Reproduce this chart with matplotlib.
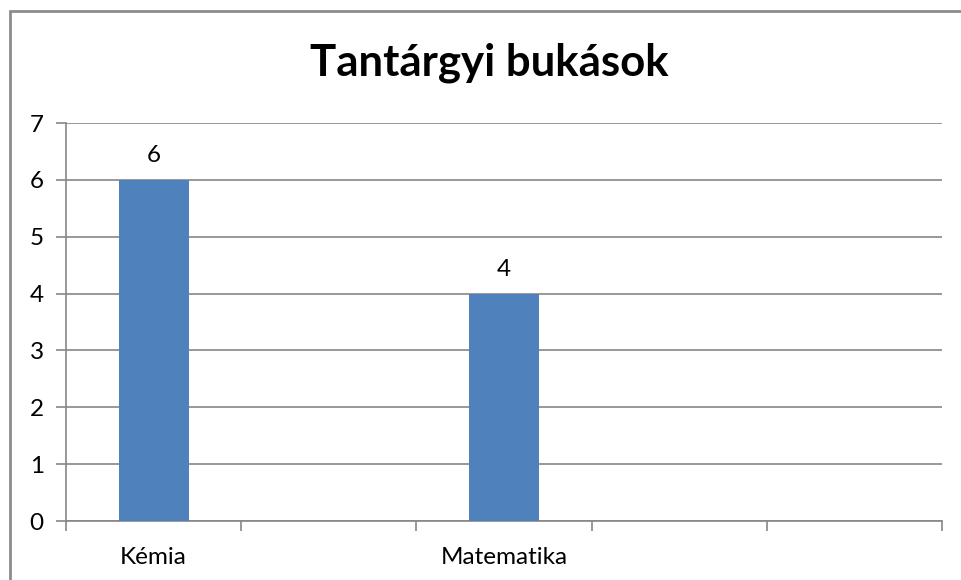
import matplotlib

matplotlib.use("Agg")

import matplotlib.pyplot as plt
import numpy as np
from matplotlib.patches import Rectangle
from matplotlib.ticker import FixedLocator

categories = ["Kémia", "", "Matematika", "", ""]
values = [6, np.nan, 4, np.nan, np.nan]
y_ticks = [0, 1, 2, 3, 4, 5, 6, 7]

_BAR_COLOR = "#4F81BD"
_AXIS_COLOR = "#868686"
_FONT = ["Lato", "DejaVu Sans"]

plt.rcParams["font.family"] = _FONT

fig = plt.figure(figsize=(9.62, 5.80), dpi=100)
ax = fig.add_axes([0.0686, 0.1017, 0.9106, 0.6862])

x = np.arange(len(categories))
ax.bar(x, values, width=0.4, color=_BAR_COLOR, zorder=3)

for xi, v in zip(x, values):
    if not np.isnan(v):
        ax.annotate(f"{v:g}", xy=(xi, v), xytext=(0, 10), textcoords="offset points",
                    ha="center", va="bottom", fontsize=17.5, color="black")

ax.set_xlim(-0.5, len(categories) - 0.5)
ax.set_ylim(0, 7)
ax.set_yticks(y_ticks)
ax.set_yticklabels([str(t) for t in y_ticks], fontsize=17.5)
ax.set_xticks(x)
ax.set_xticklabels(categories, fontsize=17.5)
ax.xaxis.set_minor_locator(FixedLocator(np.arange(len(categories) + 1) - 0.5))

ax.tick_params(axis="x", which="major", length=0, pad=19)
ax.tick_params(axis="x", which="minor", length=7, width=1.2, color=_AXIS_COLOR, direction="out")
ax.tick_params(axis="y", length=7, width=1.2, color=_AXIS_COLOR, pad=9, direction="out")

ax.grid(axis="y", color=_AXIS_COLOR, linewidth=1.2, zorder=0)
ax.set_axisbelow(True)
for side in ("top", "right"):
    ax.spines[side].set_visible(False)
for side in ("left", "bottom"):
    ax.spines[side].set_color(_AXIS_COLOR)
    ax.spines[side].set_linewidth(1.2)

fig.text(0.509, 0.892, "Tantárgyi bukások", ha="center", va="center",
         fontsize=31.5, fontweight="bold", color="black")

# outer chart border, only top and left edges visible
fig.patches.append(Rectangle((0.0104, -0.5), 2, 1.481, transform=fig.transFigure,
                             fill=False, edgecolor="#8c8c8c", linewidth=2))

fig.savefig("out.png", dpi=100)
plt.close(fig)
